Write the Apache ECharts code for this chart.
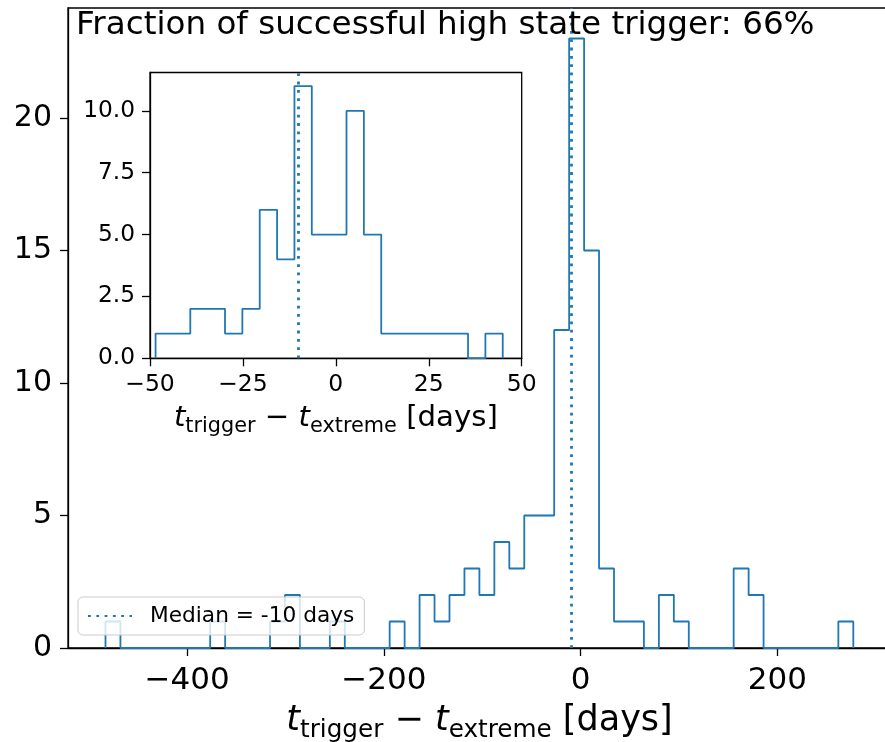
<!DOCTYPE html>
<html>
<head>
<meta charset="utf-8">
<script src="https://cdn.jsdelivr.net/npm/echarts@6/dist/echarts.min.js"></script>
<style>
 html, body { margin: 0; padding: 0; background: #fff; }
 #chart { width: 885px; height: 742px; }
</style>
</head>
<body>
<div id="chart"></div>
<script>
// histogram counts
var mainBinStart = -482.9;
var mainBinWidth = 15.2;
var mainCounts = [1, 0, 0, 0, 0, 0, 0, 1, 0, 0,
                  0, 1, 2, 0, 0, 1, 0, 0, 0, 1,
                  0, 2, 1, 2, 3, 2, 4, 3, 5, 5,
                  12, 23, 15, 3, 1, 1, 0, 2, 1, 0,
                  0, 0, 3, 2, 0, 0, 0, 0, 0, 1];

var insetBinStart = -48.5;
var insetBinWidth = 4.67;
var insetCounts = [1, 1, 2, 2, 1, 2, 6, 4, 11, 5, 5, 10, 5, 1, 1, 1, 1, 1, 0, 1];

var median = -10;
var fraction = 66;

var mainXTicks = [-400, -200, 0, 200];
var mainYTicks = [0, 5, 10, 15, 20];
var insetXTicks = [-50, -25, 0, 25, 50];
var insetYTicks = [0, 2.5, 5, 7.5, 10];

var FONT = 'DejaVu Sans';
var BLUE = '#1f77b4';
var DOTS = [2.8, 5.5];

function stepPoints(start, width, counts) {
 var pts = [[start, 0]];
 counts.forEach(function (c, i) {
  pts.push([start + width * i, c]);
  pts.push([start + width * (i + 1), c]);
 });
 pts.push([start + width * counts.length, 0]);
 return pts;
}

function minus(v) {
 return String(v).replace('-', '\u2212');
}

function axisName(size, sub, drop) {
 return {
  i: { fontFamily: FONT, fontStyle: 'italic', fontSize: size, color: '#000' },
  s: { fontFamily: FONT, fontSize: sub, color: '#000', padding: [drop, 0, 0, 0] },
  n: { fontFamily: FONT, fontSize: size, color: '#000' }
 };
}
var nameText = '{i|t}{s|trigger}{n| \u2212 }{i|t}{s|extreme}{n| [days]}';

function xAxisOf(grid, min, max, ticks, fs, margin, gap, nameFs, subFs, drop) {
 return {
  type: 'value', gridIndex: grid, min: min, max: max,
  name: nameText, nameLocation: 'middle', nameGap: gap,
  nameTextStyle: { rich: axisName(nameFs, subFs, drop) },
  axisLine: { onZero: false, lineStyle: { color: '#000', width: 1.3 } },
  axisTick: { customValues: ticks, length: 8, lineStyle: { color: '#000', width: 1.3 } },
  axisLabel: { customValues: ticks, fontSize: fs, fontFamily: FONT, color: '#000', margin: margin, formatter: minus },
  splitLine: { show: false }
 };
}
function yAxisOf(grid, max, ticks, fs, margin, fmt) {
 return {
  type: 'value', gridIndex: grid, min: 0, max: max,
  axisLine: { show: true, onZero: false, lineStyle: { color: '#000', width: 1.3 } },
  axisTick: { show: true, customValues: ticks, length: 8, lineStyle: { color: '#000', width: 1.3 } },
  axisLabel: { customValues: ticks, fontSize: fs, fontFamily: FONT, color: '#000', margin: margin, formatter: fmt },
  splitLine: { show: false }
 };
}

var chart = echarts.init(document.getElementById('chart'), null, { renderer: 'canvas' });

var option = {
 animation: false,
 backgroundColor: '#fff',
 title: {
  text: 'Fraction of successful high state trigger: ' + fraction + '%',
  left: 76, top: 9, padding: 0,
  textStyle: { fontFamily: FONT, fontSize: 32.6, fontWeight: 'normal', color: '#000' }
 },
 legend: {
  data: ['Median = ' + median + ' days'],
  left: 78, top: 597,
  padding: [8, 10, 8, 9],
  itemWidth: 44, itemHeight: 14,
  itemStyle: { opacity: 0 },
  backgroundColor: 'rgba(255,255,255,0.8)',
  borderColor: '#cccccc', borderWidth: 1, borderRadius: 5,
  textStyle: { fontFamily: FONT, fontSize: 21.7, color: '#000', padding: [0, 0, 0, 13] }
 },
 grid: [
  { left: 68, top: 8, width: 823, height: 640, show: true, borderColor: '#000', borderWidth: 1.3, outerBoundsMode: 'none', containLabel: false },
  { left: 150, top: 72.5, width: 371.7, height: 285.8, show: true, borderColor: '#000', borderWidth: 1.3, backgroundColor: '#fff', outerBoundsMode: 'none', containLabel: false }
 ],
 xAxis: [
  xAxisOf(0, -521, 315.4, mainXTicks, 31, 17, 50, 35, 24.7, 20),
  xAxisOf(1, -50, 50, insetXTicks, 23.5, 15, 42, 29.2, 20.8, 16)
 ],
 yAxis: [
  yAxisOf(0, 24.15, mainYTicks, 30, 16),
  yAxisOf(1, 11.55, insetYTicks, 23.3, 15, function (v) { return v.toFixed(1); })
 ],
 series: [
  {
   type: 'line', xAxisIndex: 0, yAxisIndex: 0,
   data: stepPoints(mainBinStart, mainBinWidth, mainCounts),
   symbol: 'none', silent: true,
   lineStyle: { color: BLUE, width: 1.8 }
  },
  {
   name: 'Median = ' + median + ' days',
   type: 'line', xAxisIndex: 0, yAxisIndex: 0, data: [],
   symbol: 'none',
   itemStyle: { color: BLUE, opacity: 0 },
   lineStyle: { color: BLUE, width: 2.8, type: DOTS },
   markLine: {
    silent: true, symbol: ['none', 'none'], label: { show: false },
    lineStyle: { color: BLUE, width: 2.8, type: DOTS, opacity: 1 },
    data: [{ xAxis: median }]
   }
  },
  {
   type: 'line', xAxisIndex: 1, yAxisIndex: 1,
   data: stepPoints(insetBinStart, insetBinWidth, insetCounts),
   symbol: 'none', silent: true,
   lineStyle: { color: BLUE, width: 1.8 }
  },
  {
   type: 'line', xAxisIndex: 1, yAxisIndex: 1, data: [],
   symbol: 'none',
   markLine: {
    silent: true, symbol: ['none', 'none'], label: { show: false },
    lineStyle: { color: BLUE, width: 2.8, type: DOTS },
    data: [{ xAxis: median }]
   }
  }
 ]
};

chart.setOption(option);
</script>
</body>
</html>
